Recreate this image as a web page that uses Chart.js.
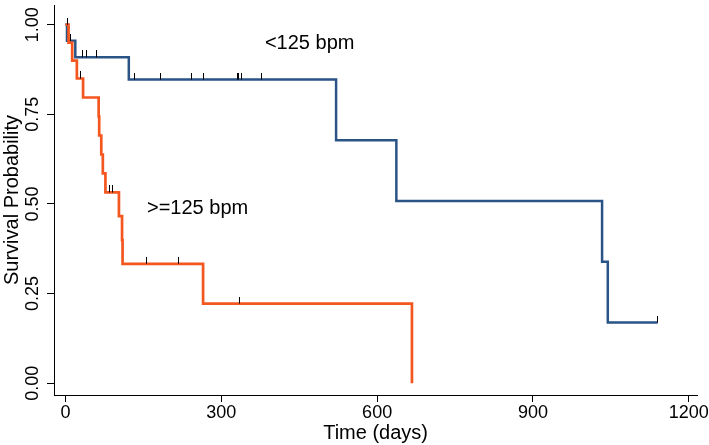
<!DOCTYPE html>
<html><head><meta charset="utf-8">
<script src="https://cdn.jsdelivr.net/npm/chart.js@4.4.1/dist/chart.umd.min.js"></script>
<style>html,body{margin:0;padding:0;background:#fff}#wrap{width:709px;height:445px;position:relative}</style>
</head><body><div id="wrap"><canvas id="c" width="709" height="445"></canvas></div>
<script>
// ---- data ----
const groupNames = ['<125 bpm', '>=125 bpm'];
const xTickValues = [0, 300, 600, 900, 1200];
const yTickValues = [0, 0.25, 0.5, 0.75, 1];

// Kaplan-Meier steps, group <125 bpm
const lowTime = [0, 3, 19, 122, 521, 637, 1033, 1044, 1140];
const lowSurv = [1, 0.955, 0.909, 0.847, 0.678, 0.508, 0.339, 0.169, 0.169];
const lowCensorTime = [10, 32, 40, 60, 133, 183, 242, 265, 331, 334, 338, 377, 1140];
const lowCensorSurv = [0.955, 0.909, 0.909, 0.909, 0.847, 0.847, 0.847, 0.847, 0.847, 0.847, 0.847, 0.847, 0.169];

// Kaplan-Meier steps, group >=125 bpm
const highTime = [0, 6, 13, 22, 34, 64, 65, 69, 72, 77, 103, 109, 110, 265, 667];
const highSurv = [1, 0.95, 0.90, 0.85, 0.797, 0.744, 0.691, 0.638, 0.585, 0.532, 0.466, 0.399, 0.333, 0.222, 0];
const highCensorTime = [4, 29, 85, 91, 157, 218, 336];
const highCensorSurv = [1, 0.85, 0.532, 0.532, 0.333, 0.333, 0.222];

// ---- styling ----
const FONT = '"Liberation Sans", Arial, Helvetica, sans-serif';
const BLUE = '#2a5386';
const ORANGE = '#f4561f';

const pts = (xs, ys) => xs.map((x, i) => ({x: x, y: ys[i]}));

// censor mark: small vertical tick sitting on top of the curve
const mark = document.createElement('canvas');
mark.width = 1; mark.height = 14;
(function(){ const m = mark.getContext('2d'); m.fillStyle = '#000'; m.fillRect(0, 0, 1, 7); })();

const textPlugin = {
  id: 'texts',
  afterDraw(chart) {
    const ctx = chart.ctx, xs = chart.scales.x, ys = chart.scales.y;
    ctx.save();
    ctx.fillStyle = '#000';
    ctx.font = '18px ' + FONT;
    ctx.textAlign = 'center';
    ctx.textBaseline = 'middle';
    yTickValues.forEach(v => {
      ctx.save();
      ctx.translate(33, ys.getPixelForValue(v));
      ctx.rotate(-Math.PI / 2);
      ctx.fillText(v.toFixed(2), 0, 0);
      ctx.restore();
    });
    ctx.font = '20px ' + FONT;
    ctx.textAlign = 'left';
    ctx.fillText(groupNames[0], xs.getPixelForValue(384), ys.getPixelForValue(0.947));
    ctx.fillText(groupNames[1], xs.getPixelForValue(157), ys.getPixelForValue(0.488));
    ctx.restore();
  }
};

new Chart(document.getElementById('c'), {
  type: 'line',
  data: {
    datasets: [
      {label: 'censor >=125', data: pts(highCensorTime, highCensorSurv), showLine: false, pointStyle: mark, pointRadius: 4, pointHoverRadius: 4},
      {label: 'censor <125', data: pts(lowCensorTime, lowCensorSurv), showLine: false, pointStyle: mark, pointRadius: 4, pointHoverRadius: 4},
      {label: groupNames[1], data: pts(highTime, highSurv), stepped: 'before', borderColor: ORANGE, borderWidth: 2.7, pointRadius: 0, fill: false},
      {label: groupNames[0], data: pts(lowTime, lowSurv), stepped: 'before', borderColor: BLUE, borderWidth: 2.5, pointRadius: 0, fill: false}
    ]
  },
  options: {
    responsive: false,
    animation: false,
    devicePixelRatio: 1,
    layout: {padding: {left: 0, right: 11, top: 0, bottom: 0}},
    plugins: {legend: {display: false}, tooltip: {enabled: false}},
    scales: {
      x: {
        type: 'linear', min: -22, max: 1216,
        afterBuildTicks: s => { s.ticks = xTickValues.map(v => ({value: v})); },
        afterFit: s => { s.height = 50; },
        grid: {drawOnChartArea: false, drawTicks: true, tickLength: 7, color: '#000', lineWidth: 1},
        border: {display: true, color: '#000', width: 1},
        ticks: {color: '#000', font: {family: FONT, size: 18}, padding: 0, maxRotation: 0, autoSkip: false, callback: v => String(v)},
        title: {display: true, text: 'Time (days)', color: '#000', font: {family: FONT, size: 20}, padding: {top: 0, bottom: 0}}
      },
      y: {
        type: 'linear', min: -0.033, max: 1.055,
        afterBuildTicks: s => { s.ticks = yTickValues.map(v => ({value: v})); },
        afterFit: s => { s.width = 54; },
        grid: {drawOnChartArea: false, drawTicks: true, tickLength: 7, color: '#000', lineWidth: 1},
        border: {display: true, color: '#000', width: 1},
        ticks: {display: false},
        title: {display: true, text: 'Survival Probability', color: '#000', font: {family: FONT, size: 20}, padding: {top: 0, bottom: 0}}
      }
    }
  },
  plugins: [textPlugin]
});
</script>
</body></html>
